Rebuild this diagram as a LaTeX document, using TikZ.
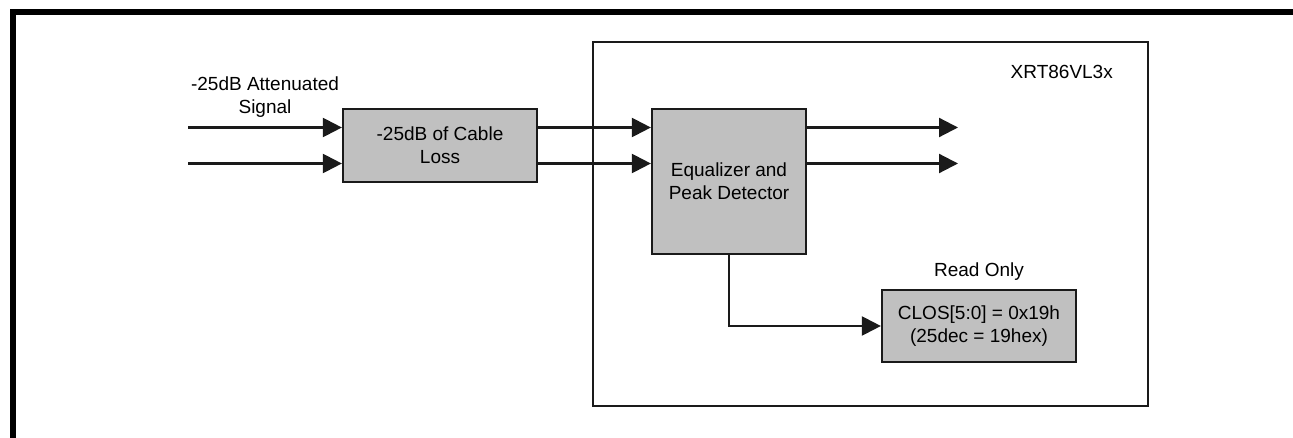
\documentclass[tikz,border=0pt]{standalone}
\usepackage{fontspec}
\setmainfont{Liberation Sans}
\usepackage{xcolor}
\usepackage{tikz}
\usetikzlibrary{positioning,arrows.meta,calc}
\definecolor{blockfill}{HTML}{C0C0C0}
\definecolor{edge}{HTML}{1A1A1A}
\tikzset{
  box/.style={rectangle,draw=edge,fill=blockfill,line width=2.2pt,
    align=center,inner sep=2pt,font=\fontsize{19}{23}\selectfont},
  lbl/.style={align=center,inner sep=0pt,font=\fontsize{19}{23}\selectfont},
  fl/.style={-{Triangle[length=19pt,width=19pt]},draw=edge,line width=2.2pt},
}

\begin{document}
\begin{tikzpicture}[x=1pt,y=-1pt]
  \useasboundingbox (0,0) rectangle (1293,438);
  % frame and chip outline
  \draw[line width=6pt,line join=miter] (13,438) -- (13,12) -- (1293,12);
  \draw[edge,line width=2.2pt] (593,42) rectangle (1148,406);
  \node[lbl,anchor=east] (chip) at (1113,72) {XRT86VL3x};
  % blocks
  \node[box,minimum width=194pt,minimum height=73pt] (loss) at (440,145.5) {-25dB of Cable\\Loss};
  \node[box,minimum width=154pt,minimum height=145pt] (eq) at (729,181.5) {Equalizer and\\Peak Detector};
  \node[box,minimum width=194pt,minimum height=72pt] (clos) at (979,326) {CLOS[5:0] = 0x19h\\(25dec = 19hex)};
  \node[lbl,above=8pt of clos] (ro) {Read Only};
  \node[lbl] (att) at (265,97) {-25dB Attenuated\\Signal};
  % signal ends
  \coordinate (a1) at (188,127.5);
  \coordinate (a2) at (188,163.5);
  \coordinate (o1) at (958,127.5);
  \coordinate (o2) at (958,163.5);
  \draw[fl] (a1) -- (a1 -| loss.west);
  \draw[fl] (a2) -- (a2 -| loss.west);
  \draw[fl] (a1 -| loss.east) -- (a1 -| eq.west);
  \draw[fl] (a2 -| loss.east) -- (a2 -| eq.west);
  \draw[fl] (a1 -| eq.east) -- (o1);
  \draw[fl] (a2 -| eq.east) -- (o2);
  \draw[fl] (eq.south) |- (clos.west);
\end{tikzpicture}
\end{document}
